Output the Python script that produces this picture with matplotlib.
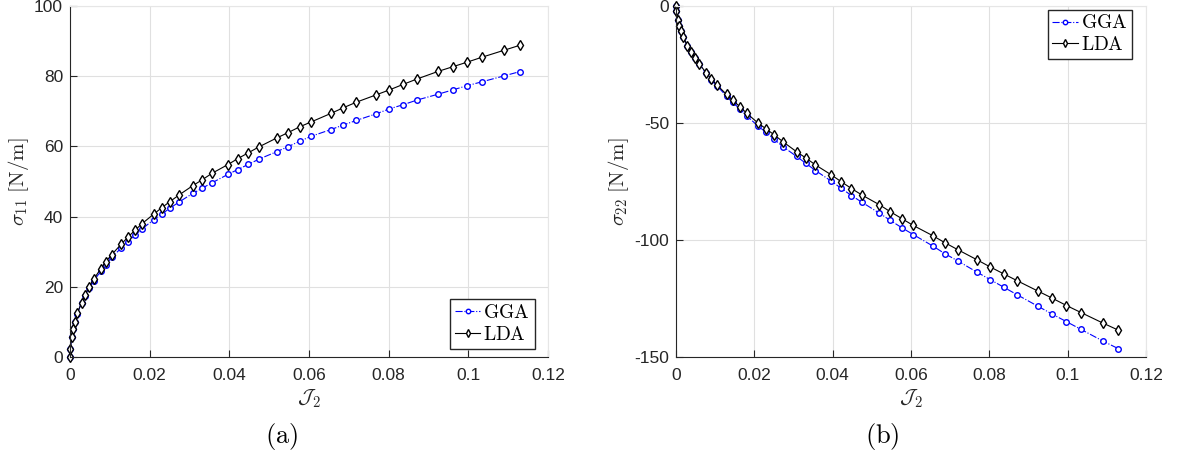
import matplotlib
matplotlib.use("Agg")
from matplotlib import pyplot as plt

plt.rcParams['mathtext.fontset'] = 'cm'
plt.rcParams['axes.unicode_minus'] = False
plt.rcParams['font.family'] = ['Liberation Sans', 'DejaVu Sans']

# J2 values (same for both panels)
J2 = [0, 0.0001, 0.0004, 0.0008, 0.0013, 0.0018, 0.0029, 0.0038, 0.0048, 0.0059,
      0.0077, 0.009, 0.0105, 0.0129, 0.0145, 0.0163, 0.0181, 0.021, 0.023, 0.0251,
      0.0273, 0.0308, 0.0332, 0.0356, 0.0396, 0.0421, 0.0448, 0.0475, 0.0519, 0.0547,
      0.0577, 0.0606, 0.0655, 0.0686, 0.0719, 0.0769, 0.0802, 0.0837, 0.0871, 0.0925,
      0.0961, 0.0997, 0.1034, 0.109, 0.1129]

# sigma_11 [N/m]
s11_gga = [0, 2.4, 5.6, 7.9, 10.0, 12.3, 15.4, 17.5, 19.7, 21.6,
           24.4, 26.3, 28.4, 31.1, 32.8, 34.7, 36.5, 39.1, 40.7, 42.4,
           44.1, 46.6, 48.1, 49.6, 52.0, 53.4, 54.9, 56.4, 58.5, 59.9,
           61.5, 62.9, 64.8, 66.1, 67.4, 69.3, 70.7, 71.9, 73.2, 74.9,
           76.1, 77.3, 78.4, 80.1, 81.3]
s11_lda = [0, 2.4, 5.7, 8.0, 10.1, 12.4, 15.5, 17.8, 20.0, 22.1,
           25.1, 27.2, 29.2, 32.2, 34.1, 36.1, 38.0, 40.7, 42.5, 44.3,
           46.1, 48.8, 50.5, 52.3, 54.8, 56.5, 58.2, 59.9, 62.4, 63.9,
           65.6, 67.0, 69.4, 71.0, 72.6, 74.7, 76.1, 77.7, 79.2, 81.4,
           82.7, 84.0, 85.4, 87.4, 88.8]

# sigma_22 [N/m]
s22_gga = [0, -2.3, -6.1, -8.5, -10.8, -13.1, -17.0, -19.6, -22.2, -24.8,
           -28.7, -31.5, -34.2, -38.5, -41.2, -44.0, -47.0, -51.4, -54.0, -57.0,
           -60.1, -64.3, -67.3, -70.3, -74.8, -77.8, -81.0, -83.9, -88.5, -91.6,
           -94.8, -97.7, -102.5, -105.8, -108.9, -113.8, -116.9, -120.2, -123.4, -128.4,
           -131.7, -134.9, -138.2, -143.2, -146.4]
s22_lda = [0, -2.3, -6.1, -8.5, -10.8, -13.1, -17.0, -19.6, -22.2, -24.7,
           -28.5, -31.2, -33.8, -37.8, -40.3, -43.0, -45.9, -50.1, -52.5, -55.1,
           -58.0, -62.3, -65.0, -67.9, -72.1, -75.0, -78.0, -80.8, -84.9, -87.9,
           -90.9, -93.8, -98.1, -101.1, -104.1, -108.5, -111.5, -114.5, -117.4, -121.9,
           -124.9, -128.0, -131.0, -135.5, -138.5]

fig = plt.figure(figsize=(11.77, 4.63), dpi=100)
axL = fig.add_axes([70/1177, 106/463, 478/1177, 351/463])
axR = fig.add_axes([676/1177, 106/463, 470/1177, 351/463])

def style(ax):
    ax.grid(True, color='#e0e0e0', linewidth=0.8)
    ax.set_axisbelow(True)
    for s in ['top', 'right']:
        ax.spines[s].set_color('#e6e6e6')
    for s in ['bottom', 'left']:
        ax.spines[s].set_color('#262626')
        ax.spines[s].set_linewidth(0.8)
    ax.tick_params(direction='in', length=5, width=0.8, labelsize=12.5, colors='#262626',
                   top=False, right=False)
    ax.tick_params(axis='x', pad=8)
    ax.tick_params(axis='y', pad=5)
    ax.set_xlim(0, 0.12)
    ax.set_xticks([0, 0.02, 0.04, 0.06, 0.08, 0.1, 0.12])
    ax.set_xticklabels(['0', '0.02', '0.04', '0.06', '0.08', '0.1', '0.12'])
    ax.set_xlabel(r'$\mathcal{J}_2$', fontsize=15, color='#262626', labelpad=3)

def draw(ax, g, l):
    ax.plot(J2, g, '-.', color='#0000ff', marker='o', markersize=4, markerfacecolor='white',
            markeredgecolor='#0000ff', linewidth=0.8, label=r'$\mathrm{GGA}$', clip_on=False)
    ax.plot(J2, l, '-', color='black', marker='d', markersize=5, markerfacecolor='white',
            markeredgecolor='black', linewidth=0.8, label=r'$\mathrm{LDA}$', clip_on=False)

leg_kw = dict(fontsize=14, fancybox=False, edgecolor='#262626', framealpha=1,
              handlelength=1.3, handletextpad=0.15, borderpad=0.25, labelspacing=0.2,
              borderaxespad=0, markerscale=0.8, numpoints=1)

draw(axL, s11_gga, s11_lda)
style(axL)
axL.set_ylim(0, 100)
axL.set_yticks([0, 20, 40, 60, 80, 100])
axL.set_ylabel(r'$\sigma_{11}\ [\mathrm{N/m}]$', fontsize=15, color='#262626', labelpad=2)
axL.legend(loc='lower right', bbox_to_anchor=(0.972, 0.023), **leg_kw)

draw(axR, s22_gga, s22_lda)
style(axR)
axR.set_ylim(-150, 0)
axR.set_yticks([-150, -100, -50, 0])
axR.set_ylabel(r'$\sigma_{22}\ [\mathrm{N/m}]$', fontsize=15, color='#262626', labelpad=2)
axR.legend(loc='upper right', bbox_to_anchor=(0.97, 0.99), **leg_kw)

fig.text(282/1177, 1 - 437/463, r'$(\mathrm{a})$', fontsize=19, ha='center', va='center')
fig.text(882/1177, 1 - 437/463, r'$(\mathrm{b})$', fontsize=19, ha='center', va='center')

fig.savefig('out.png', dpi=100)
